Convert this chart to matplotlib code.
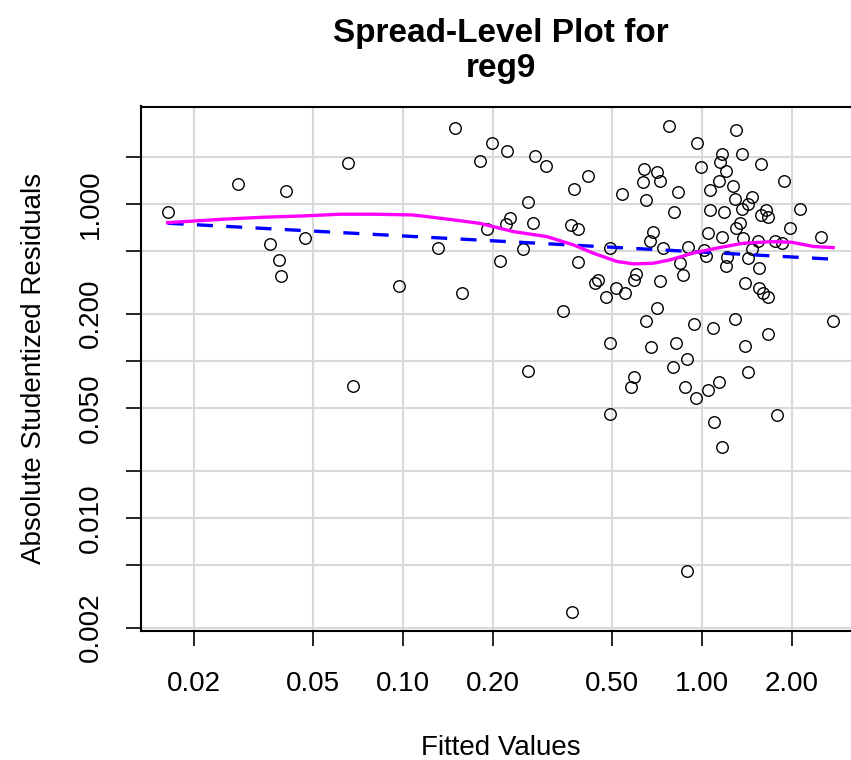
import numpy as np
import matplotlib.pyplot as plt
from matplotlib.ticker import FixedLocator, FixedFormatter, NullLocator

plt.rcParams['font.family'] = ['Liberation Sans', 'DejaVu Sans']

# fitted values and absolute studentized residuals
fitted = [0.0163, 0.0280, 0.0406, 0.0358, 0.0384, 0.0390, 0.0471, 0.0653, 0.0681, 0.0970,
          0.1307, 0.1496, 0.1578, 0.1809, 0.1987, 0.1912, 0.2113, 0.2222, 0.2761, 0.2999,
          0.3721, 0.2611, 0.2274, 0.2205, 0.2725, 0.3655, 0.3852, 0.2508, 0.3852, 0.3437,
          0.2611, 0.775, 1.298, 0.962, 1.169, 1.356, 1.148, 1.576, 1.199, 0.988,
          0.641, 0.706, 0.725, 0.632, 0.415, 0.538, 0.831, 1.136, 1.270, 1.875,
          1.059, 1.285, 1.472, 1.423, 1.357, 0.650, 0.808, 1.059, 1.184, 1.571,
          1.637, 1.660, 2.121, 0.687, 0.668, 0.738, 1.336, 1.303, 1.047, 1.164,
          1.373, 1.535, 1.750, 1.854, 1.962, 2.496, 0.491, 0.899, 1.017, 1.033,
          1.214, 1.199, 1.427, 1.553, 1.468, 0.841, 0.865, 0.599, 0.591, 0.725,
          0.447, 0.438, 0.516, 0.476, 0.553, 1.393, 1.552, 1.602, 1.664, 0.707,
          0.650, 0.940, 1.088, 1.285, 1.663, 2.748, 0.490, 0.677, 0.820, 1.393,
          0.889, 0.797, 1.429, 0.591, 0.577, 0.877, 1.135, 1.047, 0.954, 0.490,
          1.092, 1.783, 1.169, 0.890, 0.3677]
abs_res = [0.885, 1.335, 1.215, 0.559, 0.438, 0.346, 0.605, 1.833, 0.0696, 0.299,
           0.521, 3.05, 0.271, 1.879, 2.457, 0.696, 0.430, 2.169, 2.022, 1.746,
           1.242, 1.025, 0.811, 0.746, 0.751, 0.738, 0.695, 0.519, 0.424, 0.2067,
           0.0868, 3.14, 2.973, 2.457, 2.076, 2.076, 1.844, 1.798, 1.630, 1.713,
           1.666, 1.599, 1.401, 1.375, 1.512, 1.155, 1.187, 1.407, 1.306, 1.407,
           1.219, 1.073, 1.100, 1.003, 0.929, 1.053, 0.887, 0.912, 0.883, 0.851,
           0.920, 0.820, 0.932, 0.666, 0.580, 0.521, 0.754, 0.698, 0.649, 0.616,
           0.607, 0.583, 0.580, 0.560, 0.698, 0.618, 0.521, 0.531, 0.506, 0.464,
           0.458, 0.405, 0.450, 0.389, 0.517, 0.421, 0.353, 0.357, 0.328, 0.321,
           0.330, 0.313, 0.292, 0.257, 0.270, 0.313, 0.293, 0.272, 0.257, 0.2176,
           0.1798, 0.1713, 0.1623, 0.1837, 0.148, 0.1798, 0.1308, 0.1219, 0.1308, 0.1246,
           0.1030, 0.0912, 0.0845, 0.0788, 0.0680, 0.0680, 0.0730, 0.0649, 0.0581, 0.0461,
           0.0409, 0.0451, 0.0283, 0.00462, 0.00253]

# loess smoother (magenta)
smooth_x = [0.0163, 0.0249, 0.0342, 0.0466, 0.0617, 0.0796, 0.1072, 0.1203, 0.1476, 0.1813,
            0.2341, 0.3027, 0.3715, 0.4332, 0.5186, 0.5892, 0.687, 0.781, 0.935, 1.148,
            1.373, 1.708, 1.992, 2.352, 2.744]
smooth_y = [0.760, 0.799, 0.823, 0.839, 0.860, 0.860, 0.851, 0.830, 0.791, 0.751,
            0.666, 0.619, 0.548, 0.485, 0.430, 0.415, 0.419, 0.440, 0.487, 0.528,
            0.562, 0.575, 0.570, 0.536, 0.527]

# spread-level fit: log10(|res|) = a + b*log10(fitted)
fit_intercept = -0.307
fit_slope = -0.103

xticks = [0.02, 0.05, 0.1, 0.2, 0.5, 1, 2]
xticklabels = ['0.02', '0.05', '0.10', '0.20', '0.50', '1.00', '2.00']
yticks = [0.002, 0.005, 0.01, 0.02, 0.05, 0.1, 0.2, 0.5, 1, 2]
yticklabels = ['0.002', '', '0.010', '', '0.050', '', '0.200', '', '1.000', '']

fig = plt.figure(figsize=(8.51, 7.60), dpi=100)
ax = fig.add_axes([141/851, 1 - 631/760, (860 - 141)/851, (631 - 106.5)/760])

ax.set_xscale('log')
ax.set_yscale('log')

lx = np.log10(fitted)
ly = np.log10(abs_res)
dx = 0.04 * (lx.max() - lx.min())
dy = 0.04 * (ly.max() - ly.min())
ax.set_xlim(10**(lx.min() - dx), 10**(lx.max() + dx))
ax.set_ylim(10**(ly.min() - dy), 10**(ly.max() + dy))

ax.grid(True, color='#d9d9d9', lw=1.5, zorder=0)
ax.set_axisbelow(True)

ax.plot(fitted, abs_res, 'o', mfc='none', mec='black', ms=8.3, mew=1.0, zorder=3)

xf = np.array([min(fitted), max(fitted)])
ax.plot(xf, 10**(fit_intercept + fit_slope*np.log10(xf)), color='blue', lw=2.4,
        ls=(0, (4.8, 4)), zorder=4)
ax.plot(smooth_x, smooth_y, color='magenta', lw=2.4, zorder=4)

ax.xaxis.set_major_locator(FixedLocator(xticks))
ax.xaxis.set_major_formatter(FixedFormatter(xticklabels))
ax.xaxis.set_minor_locator(NullLocator())
ax.yaxis.set_major_locator(FixedLocator(yticks))
ax.yaxis.set_major_formatter(FixedFormatter(yticklabels))
ax.yaxis.set_minor_locator(NullLocator())

ax.tick_params(axis='both', length=11, width=1.2, labelsize=20, direction='out')
ax.tick_params(axis='x', pad=18)
ax.tick_params(axis='y', pad=16)
for lab in ax.get_yticklabels():
    lab.set_rotation(90)
    lab.set_va('center')

for s in ax.spines.values():
    s.set_linewidth(1.5)

ax.set_xlabel('Fitted Values', fontsize=20, labelpad=27)
ax.set_ylabel('Absolute Studentized Residuals', fontsize=20, labelpad=22)
ax.set_title('Spread-Level Plot for\nreg9', fontsize=24, fontweight='bold', pad=21)

fig.savefig('out.png', dpi=100)
